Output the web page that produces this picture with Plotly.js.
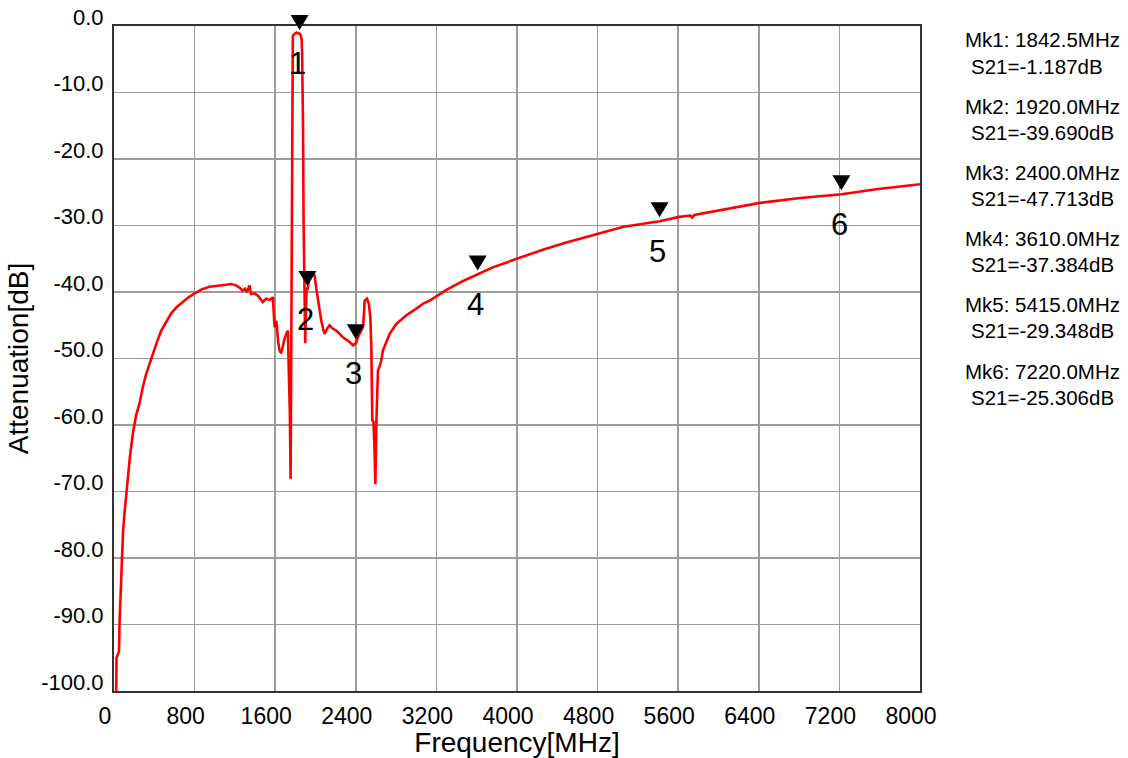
<!DOCTYPE html>
<html>
<head>
<meta charset="utf-8">
<script src="https://cdn.plot.ly/plotly-3.0.1.min.js"></script>
<style>
  html, body { margin: 0; padding: 0; background: #fff; }
  #chart { width: 1128px; height: 758px; }
</style>
</head>
<body>
<div id="chart"></div>
<script>
// ---- Data ----
const freqMHz = [15, 22, 25, 50, 55, 65, 71, 90, 104, 120, 137, 160, 187, 220, 253, 286, 320, 369, 420, 469, 520, 568, 620, 683, 740, 800, 870, 948, 1030, 1114, 1160, 1213, 1250, 1277, 1300, 1320, 1345, 1360, 1395, 1430, 1477, 1511, 1545, 1577, 1594, 1611, 1630, 1643, 1660, 1677, 1693, 1710, 1726, 1735, 1745, 1753, 1757, 1760, 1766, 1771, 1775, 1790, 1810, 1830, 1842.5, 1855, 1862, 1867, 1870, 1876, 1882, 1888, 1894, 1898, 1905, 1912, 1920, 1941, 1965, 1991, 2008, 2024, 2040, 2057, 2075, 2090, 2115, 2140, 2170, 2206, 2240, 2272, 2310, 2339, 2372, 2400, 2421, 2450, 2471, 2480, 2488, 2511, 2530, 2545, 2554, 2564, 2575, 2585, 2594, 2604, 2620, 2640, 2653, 2669, 2700, 2736, 2802, 2902, 3001, 3074, 3133, 3200, 3308, 3471, 3610, 3759, 4019, 4264, 4481, 4817, 5058, 5415, 5610, 5720, 5740, 5760, 6069, 6412, 6790, 7220, 7585, 8000];
const s21dB = [-100, -100, -95, -94, -89.7, -85, -81.9, -76, -73.3, -70.5, -68.8, -64.5, -61.3, -58.5, -56.8, -54.3, -52.3, -50, -47.8, -45.8, -44.5, -43.2, -42.3, -41.5, -40.8, -40.2, -39.6, -39.2, -39.0, -38.9, -38.8, -39.0, -39.4, -39.8, -39.5, -40.0, -39.0, -40.3, -40.2, -40.6, -41.5, -41.0, -41.2, -40.8, -45.3, -44.3, -47.5, -48.8, -49.2, -47.8, -47.0, -46.3, -45.8, -52, -57.8, -68.1, -55, -28.2, -27.5, -6, -1.5, -1.2, -1.0, -1.1, -1.187, -1.4, -2.0, -4, -7.4, -15, -29.7, -38, -45, -47.7, -43, -39.3, -39.69, -37.7, -37.2, -37.5, -39.5, -41.3, -43, -44.3, -45.5, -46.3, -45.5, -45, -45.5, -45.8, -46.3, -46.8, -47.2, -47.5, -48, -47.713, -46.8, -46, -45.3, -43.5, -41.3, -41, -41.8, -44, -48.3, -59.3, -59.5, -63, -68.9, -59.8, -51.8, -51, -50.3, -48.8, -47.5, -46.3, -44.8, -43.5, -42.5, -41.7, -41.3, -40.6, -39.6, -38.3, -37.384, -36.3, -34.9, -33.6, -32.6, -31.2, -30.2, -29.348, -28.7, -28.5, -28.8, -28.4, -27.6, -26.6, -25.9, -25.306, -24.5, -23.8];

const markerFreq = [1842.5, 1920.0, 2400.0, 3610.0, 5415.0, 7220.0];
const markerS21  = [-1.187, -39.690, -47.713, -37.384, -29.348, -25.306];
const markerNames = ["1", "2", "3", "4", "5", "6"];

const xTickVals = [0, 800, 1600, 2400, 3200, 4000, 4800, 5600, 6400, 7200, 8000];
const xTickText = ["0", "800", "1600", "2400", "3200", "4000", "4800", "5600", "6400", "7200", "8000"];
const yTickVals = [0, -10, -20, -30, -40, -50, -60, -70, -80, -90, -100];
const yTickText = ["0.0", "-10.0", "-20.0", "-30.0", "-40.0", "-50.0", "-60.0", "-70.0", "-80.0", "-90.0", "-100.0"];

// ---- Build the figure ----
const FONT = '"Liberation Sans", Arial, sans-serif';
const L = 114, T = 26, W = 806, H = 665;
const X_RANGE = [0, 8000], Y_RANGE = [-100, 0];

const trace = {
  x: freqMHz, y: s21dB, type: 'scatter', mode: 'lines',
  line: { color: '#ff0000', width: 2.6, shape: 'linear' },
  hoverinfo: 'skip', showlegend: false
};

// marker triangles: anchored on the data point (converted to paper y so they are not clipped)
const shapes = markerFreq.map((f, i) => ({
  type: 'path', xref: 'x', yref: 'paper',
  xsizemode: 'pixel', ysizemode: 'pixel',
  xanchor: f, yanchor: (markerS21[i] - Y_RANGE[0]) / (Y_RANGE[1] - Y_RANGE[0]),
  path: 'M -9 19 L 9 19 L 0 4 Z',
  fillcolor: '#000000', line: { width: 0 }, layer: 'above'
}));

const annotations = [];
markerFreq.forEach((f, i) => {
  annotations.push({
    x: f, y: markerS21[i], xref: 'x', yref: 'y',
    text: markerNames[i], showarrow: false,
    xanchor: 'center', yanchor: 'middle', xshift: -2, yshift: -30,
    font: { family: FONT, size: 31, color: '#000' }
  });
  const yMk = 40 + 66.2 * i, yS = 66 + 66.2 * i;
  annotations.push({
    xref: 'paper', yref: 'paper', x: (963 - L) / W, y: 1 - (yMk - T) / H,
    xanchor: 'left', yanchor: 'middle', showarrow: false,
    text: 'Mk' + (i + 1) + ': ' + f.toFixed(1) + 'MHz',
    font: { family: FONT, size: 20.5, color: '#000' }
  });
  annotations.push({
    xref: 'paper', yref: 'paper', x: (969 - L) / W, y: 1 - (yS - T) / H,
    xanchor: 'left', yanchor: 'middle', showarrow: false,
    text: 'S21=' + markerS21[i].toFixed(3) + 'dB',
    font: { family: FONT, size: 20.5, color: '#000' }
  });
});

const layout = {
  width: 1128, height: 758,
  margin: { l: L, r: 1128 - L - W, t: T, b: 758 - T - H, pad: 0 },
  paper_bgcolor: '#ffffff', plot_bgcolor: '#ffffff',
  font: { family: FONT, color: '#000' },
  showlegend: false,
  xaxis: {
    range: X_RANGE, tickmode: 'array', tickvals: xTickVals, ticktext: xTickText,
    showgrid: true, gridcolor: '#9c9c9c', gridwidth: 1.6,
    showline: true, linecolor: '#333333', linewidth: 2, mirror: true,
    zeroline: false, ticks: '', ticklabelshift: -9, ticklabelstandoff: 3,
    tickfont: { family: FONT, size: 23, color: '#000' },
    title: { text: 'Frequency[MHz]', font: { family: FONT, size: 28, color: '#000' }, standoff: 0 },
    automargin: false, fixedrange: true
  },
  yaxis: {
    range: Y_RANGE, tickmode: 'array', tickvals: yTickVals, ticktext: yTickText,
    showgrid: true, gridcolor: '#9c9c9c', gridwidth: 1.6,
    showline: true, linecolor: '#333333', linewidth: 2, mirror: true,
    zeroline: false, ticks: '', ticklabelshift: -9, ticklabelstandoff: 4,
    tickfont: { family: FONT, size: 22, color: '#000' },
    title: { text: 'Attenuation[dB]', font: { family: FONT, size: 28, color: '#000' }, standoff: 4 },
    automargin: false, fixedrange: true
  },
  shapes: shapes,
  annotations: annotations
};

Plotly.newPlot('chart', [trace], layout, { displayModeBar: false, staticPlot: true });
</script>
</body>
</html>
